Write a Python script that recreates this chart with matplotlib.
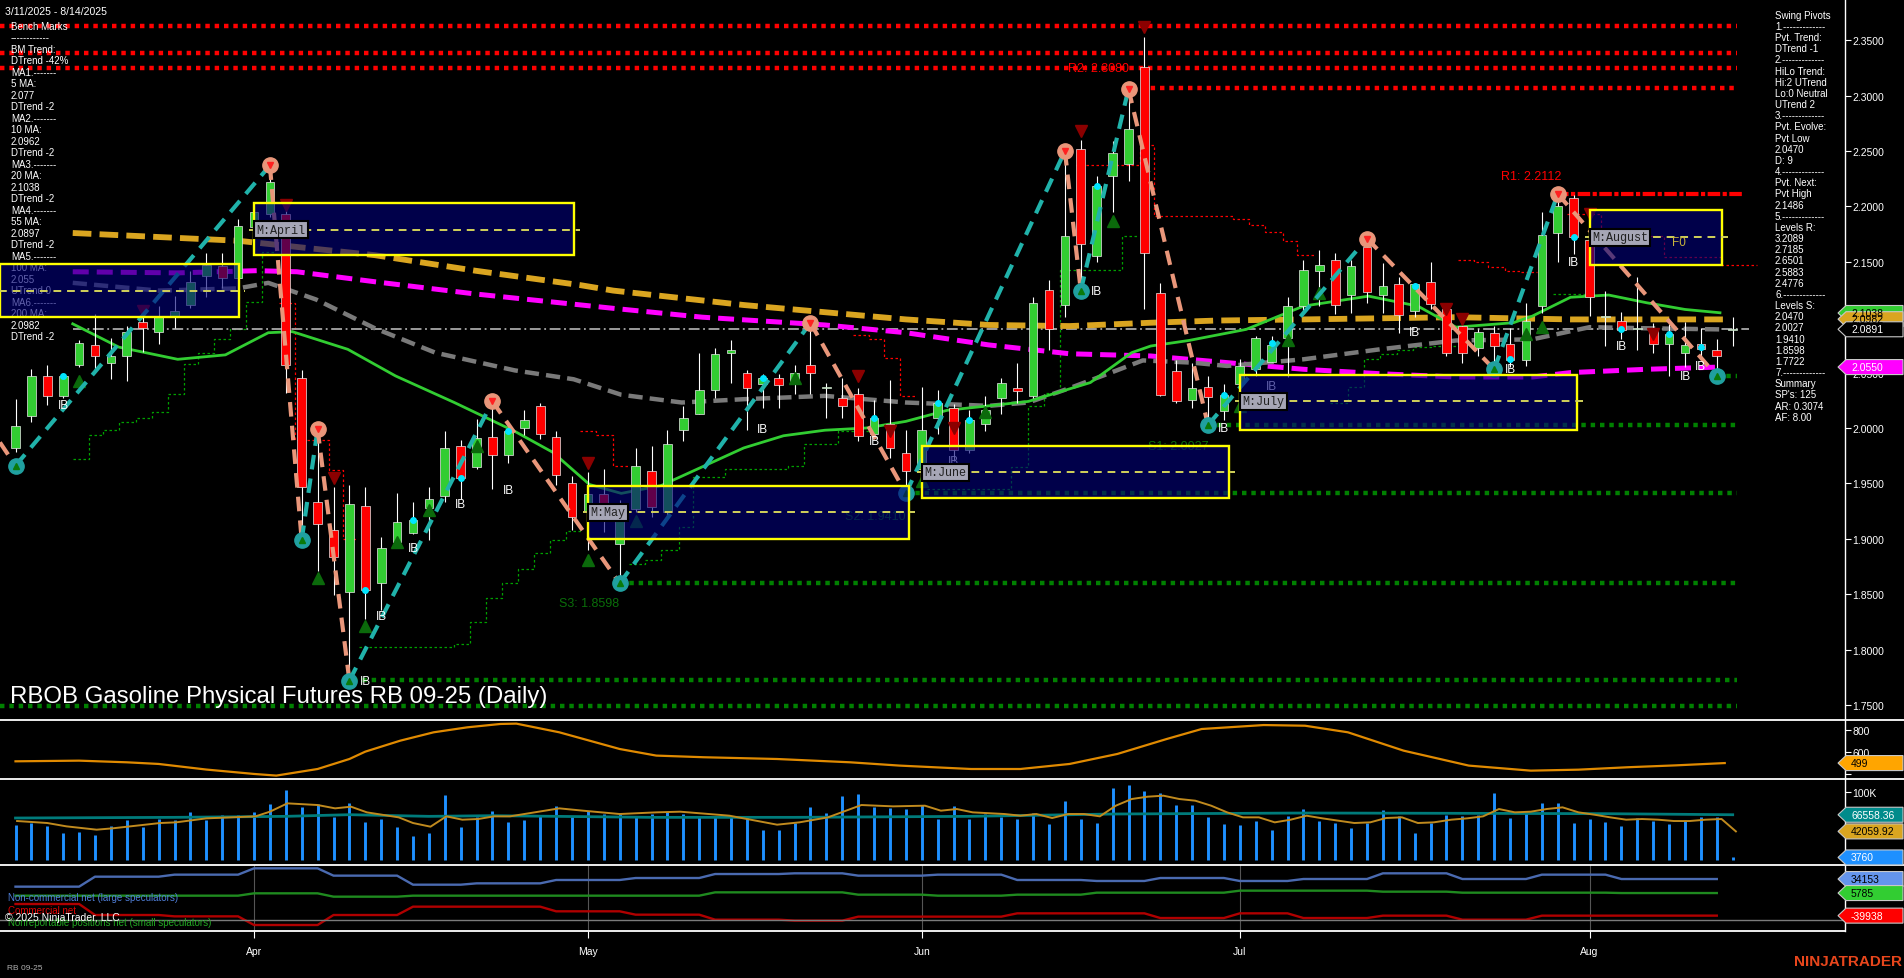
import numpy as np
import matplotlib
matplotlib.use('Agg')
import matplotlib.pyplot as plt
from matplotlib.transforms import Affine2D
from matplotlib.patches import Rectangle, Polygon
from matplotlib.lines import Line2D

W, H = 1904, 979
plt.rcParams['font.family'] = ['Liberation Sans', 'DejaVu Sans']

# ---------------- price data (daily bars 3/11/2025 - 8/14/2025) ----------------
open_ = [1.982, 2.011, 2.047, 2.029, 2.057, 2.075, 2.059, 2.065, 2.096, 2.087,
         2.100, 2.111, 2.137, 2.146, 2.135, 2.181, 2.193, 2.193, 2.045, 1.933,
         1.908, 1.852, 1.930, 1.860, 1.897, 1.905, 1.928, 1.939, 1.984, 1.965,
         1.992, 1.976, 2.000, 2.020, 1.992, 1.950, 1.925, 1.940, 1.895, 1.927,
         1.961, 1.924, 1.998, 2.013, 2.034, 2.068, 2.050, 2.040, 2.045, 2.040,
         2.057, 2.036, 2.027, 2.031, 1.995, 2.004, 1.977, 1.963, 2.009, 2.018,
         1.980, 2.004, 2.027, 2.036, 2.029, 2.125, 2.111, 2.252, 2.155, 2.227,
         2.238, 2.326, 2.122, 2.051, 2.025, 2.037, 2.015, 2.040, 2.053, 2.060,
         2.081, 2.110, 2.142, 2.152, 2.120, 2.163, 2.120, 2.130, 2.106, 2.132,
         2.107, 2.092, 2.072, 2.086, 2.076, 2.061, 2.110, 2.176, 2.208, 2.170,
         2.100, 2.097, 2.089, 2.088, 2.076, 2.068, 2.076, 2.070, 2.088]
high = [2.026, 2.053, 2.057, 2.049, 2.079, 2.103, 2.081, 2.092, 2.106, 2.110,
        2.119, 2.142, 2.158, 2.158, 2.189, 2.200, 2.237, 2.200, 2.052, 1.990,
        1.947, 1.949, 1.947, 1.902, 1.941, 1.933, 1.947, 1.997, 1.989, 2.008,
        2.024, 2.000, 2.016, 2.023, 1.997, 1.957, 1.960, 1.963, 1.935, 1.982,
        1.984, 1.998, 2.020, 2.068, 2.072, 2.079, 2.052, 2.049, 2.049, 2.057,
        2.090, 2.041, 2.045, 2.036, 2.025, 2.043, 1.998, 2.037, 2.034, 2.022,
        2.016, 2.029, 2.045, 2.059, 2.118, 2.134, 2.250, 2.260, 2.227, 2.259,
        2.306, 2.353, 2.131, 2.061, 2.059, 2.047, 2.040, 2.062, 2.083, 2.083,
        2.118, 2.152, 2.161, 2.158, 2.152, 2.171, 2.149, 2.136, 2.131, 2.150,
        2.110, 2.098, 2.089, 2.092, 2.090, 2.113, 2.195, 2.211, 2.210, 2.176,
        2.124, 2.105, 2.136, 2.095, 2.094, 2.096, 2.090, 2.080, 2.100]
low = [1.978, 2.005, 2.021, 2.027, 2.055, 2.052, 2.044, 2.042, 2.069, 2.076,
       2.090, 2.108, 2.118, 2.126, 2.126, 2.178, 2.190, 2.032, 1.905, 1.871,
       1.849, 1.772, 1.828, 1.836, 1.895, 1.904, 1.899, 1.933, 1.936, 1.963,
       1.945, 1.968, 1.994, 1.990, 1.949, 1.908, 1.890, 1.906, 1.860, 1.924,
       1.920, 1.920, 1.988, 2.013, 2.027, 2.041, 1.998, 2.018, 2.018, 2.031,
       2.031, 2.009, 2.009, 1.988, 1.991, 1.973, 1.941, 1.959, 1.995, 1.970,
       1.977, 1.997, 2.013, 2.023, 2.027, 2.070, 2.100, 2.124, 2.150, 2.195,
       2.223, 2.107, 2.029, 2.023, 2.018, 2.003, 2.007, 2.037, 2.047, 2.060,
       2.046, 2.104, 2.110, 2.103, 2.104, 2.113, 2.104, 2.086, 2.100, 2.107,
       2.065, 2.059, 2.065, 2.053, 2.055, 2.056, 2.104, 2.150, 2.157, 2.101,
       2.074, 2.080, 2.070, 2.068, 2.047, 2.055, 2.062, 2.047, 2.074]
close = [2.002, 2.047, 2.029, 2.047, 2.077, 2.065, 2.065, 2.087, 2.090, 2.100,
         2.106, 2.132, 2.147, 2.135, 2.182, 2.195, 2.222, 2.057, 1.947, 1.913,
         1.884, 1.931, 1.854, 1.892, 1.915, 1.917, 1.936, 1.982, 1.955, 1.991,
         1.976, 1.997, 2.007, 1.995, 1.958, 1.920, 1.940, 1.929, 1.931, 1.966,
         1.929, 1.986, 2.009, 2.034, 2.067, 2.070, 2.036, 2.045, 2.039, 2.050,
         2.050, 2.037, 2.020, 1.993, 2.009, 1.982, 1.961, 1.998, 2.023, 1.980,
         2.007, 2.016, 2.041, 2.033, 2.113, 2.089, 2.173, 2.166, 2.218, 2.248,
         2.270, 2.158, 2.030, 2.024, 2.036, 2.028, 2.030, 2.056, 2.081, 2.075,
         2.110, 2.143, 2.147, 2.111, 2.146, 2.123, 2.128, 2.102, 2.130, 2.112,
         2.068, 2.068, 2.087, 2.074, 2.061, 2.097, 2.174, 2.200, 2.172, 2.118,
         2.101, 2.088, 2.090, 2.076, 2.085, 2.075, 2.071, 2.065, 2.0891]

month_bars = [15, 36, 57, 77, 99]
month_names = ['Apr', 'May', 'Jun', 'Jul', 'Aug']

# moving averages read at sample bars
ma200_x = [3.6, 14, 22.6, 28.9, 35.5, 37.6, 45.8, 56, 61.2, 66.3, 71.4, 75.6, 81, 90.6, 97.8, 107.4]
ma200_y = [2.176, 2.169, 2.156, 2.142, 2.129, 2.124, 2.111, 2.098, 2.093, 2.092, 2.095, 2.097, 2.098, 2.100, 2.098, 2.098]
ma100_x = [3.6, 10.2, 15.2, 17.7, 22.6, 28.9, 37.6, 43.2, 50.9, 56, 61.2, 66.3, 71.4, 76.2, 81, 85.8, 90.6, 95.4, 97.8, 102.6, 107.2]
ma100_y = [2.141, 2.140, 2.142, 2.141, 2.132, 2.121, 2.108, 2.100, 2.093, 2.086, 2.075, 2.067, 2.065, 2.059, 2.053, 2.049, 2.046, 2.046, 2.050, 2.053, 2.055]
ma55_x = [3.6, 9, 14, 15.9, 18.9, 22.6, 26.4, 31.4, 35.1, 38.1, 41.9, 45.8, 50.9, 56, 61.2, 63.7, 66.3, 68.9, 70.9, 74, 76.2, 81, 85.8, 90.6, 95.4, 99, 102.6, 107.2]
ma55_y = [2.131, 2.124, 2.126, 2.131, 2.116, 2.090, 2.068, 2.052, 2.044, 2.030, 2.023, 2.026, 2.029, 2.023, 2.020, 2.023, 2.036, 2.050, 2.061, 2.059, 2.056, 2.062, 2.071, 2.079, 2.080, 2.091, 2.090, 2.089]
ma20_x = [3.6, 6.5, 10.2, 13.2, 15.9, 17.4, 20.9, 23.9, 27.6, 31.4, 33.8, 36.1, 38.1, 40.6, 43.2, 45.8, 48.3, 50.9, 53.5, 56, 58.6, 61.2, 63.7, 67.6, 70.2, 71.4, 73.8, 77.4, 81, 85.1, 88.2, 90.6, 94.2, 95.4, 97.8, 100.2, 102.6, 105, 107.2]
ma20_y = [2.094, 2.073, 2.062, 2.066, 2.086, 2.087, 2.071, 2.047, 2.023, 1.997, 1.978, 1.949, 1.941, 1.948, 1.965, 1.982, 1.993, 1.998, 2.000, 2.006, 2.016, 2.020, 2.024, 2.041, 2.068, 2.074, 2.079, 2.089, 2.110, 2.119, 2.110, 2.091, 2.095, 2.101, 2.118, 2.120, 2.113, 2.107, 2.104]

# swing pivots (bar, price)
swing_x = [-0.98, 0, 16, 18, 19, 21, 30, 38, 50, 56, 66, 67, 70, 75, 85, 93, 97, 107]
swing_y = [1.987, 1.966, 2.237, 1.899, 1.999, 1.772, 2.024, 1.8598, 2.095, 1.941, 2.250, 2.124, 2.306, 2.0027, 2.171, 2.053, 2.2112, 2.047]

# monthly range boxes: first bar, last bar, top, mid, bottom
box_name = ['', 'M:April', 'M:May', 'M:June', 'M:July', 'M:August']
box_x0 = [-0.98, 15, 36, 57, 77, 99]
box_x1 = [14.05, 35.1, 56.2, 76.3, 98.2, 107.3]
box_top = [2.148, 2.203, 1.948, 1.984, 2.048, 2.197]
box_mid = [2.124, 2.179, 1.924, 1.960, 2.024, 2.172]
box_bot = [2.100, 2.156, 1.900, 1.937, 1.998, 2.147]

# trailing stop steps
gstop = [([3.6, 4.6, 5.5, 6.5, 7.6, 8.6, 9.6, 10.6, 11.5, 12.5, 13.5, 14.5, 15.5, 16.4],
          [1.972, 1.994, 1.998, 2.005, 2.009, 2.014, 2.031, 2.058, 2.068, 2.080, 2.089, 2.114, 2.159, 2.159]),
         ([21.6, 27.6, 28.6, 29.6, 30.6, 31.6, 32.6, 33.6, 34.6, 35.6],
          [1.802, 1.805, 1.825, 1.847, 1.860, 1.873, 1.887, 1.899, 1.907, 1.908]),
         ([38.6, 39.6, 40.6, 41.7, 42.6, 44.6, 48.6, 49.6, 51.7, 54.0],
          [1.877, 1.881, 1.890, 1.911, 1.956, 1.963, 1.966, 1.986, 1.997, 1.997]),
         ([57.3, 62.6, 63.7, 64.7, 65.7, 69.6, 70.6],
          [1.945, 1.965, 2.020, 2.032, 2.143, 2.173, 2.173]),
         ([82.7, 83.8, 84.8, 85.8, 86.9, 87.9, 89.0, 90.8],
          [2.023, 2.037, 2.062, 2.067, 2.070, 2.073, 2.074, 2.074]),
         ([96.7, 98.9], [2.121, 2.121])]
rstop = [([16.6, 17.6, 19.7, 20.6, 21.5], [2.113, 1.989, 1.962, 1.900, 1.900]),
         ([35.5, 36.5, 37.6, 38.6], [1.997, 1.994, 1.966, 1.966]),
         ([52.7, 53.7, 54.6, 55.6, 56.6], [2.084, 2.080, 2.063, 2.029, 2.029]),
         ([66.7, 70.7, 71.6, 76.6, 77.6, 78.6, 79.7, 80.6, 81.7],
          [2.237, 2.255, 2.191, 2.189, 2.183, 2.177, 2.169, 2.156, 2.156]),
         ([90.7, 91.7, 92.6, 93.7, 94.7, 95.7], [2.152, 2.150, 2.145, 2.142, 2.141, 2.141]),
         ([97.6, 99.7, 103.7, 107.3, 109.5], [2.193, 2.173, 2.154, 2.147, 2.147])]

# horizontal levels (price, first bar)
red_levels = [(2.363, -1), (2.338, -1), (2.325, -1), (2.307, 70.2)]
green_levels = [(2.047, 107), (2.0027, 75), (1.941, 56), (1.8598, 38), (1.7722, 21.2), (1.749, -1)]
last_price = 2.0891

ib_x = [3, 22, 23, 25, 28, 31, 47, 54, 59, 68, 76, 79, 88, 94, 98, 101, 105, 106]
ib_y = [2.021, 1.772, 1.830, 1.892, 1.931, 1.944, 1.999, 1.988, 1.970, 2.124, 2.000, 2.038, 2.087, 2.053, 2.150, 2.074, 2.047, 2.056]
up_tri_x = [4, 19, 22, 24, 26, 29, 36, 39, 49, 57, 61, 69, 77, 80, 82, 95, 96]
up_tri_y = [2.042, 1.865, 1.821, 1.897, 1.926, 1.984, 1.881, 1.916, 2.045, 1.952, 2.014, 2.187, 2.020, 2.079, 2.122, 2.085, 2.091]
dn_tri_x = [8, 17, 20, 36, 53, 55, 59, 67, 71, 90, 91, 99, 103]
dn_tri_y = [2.106, 2.201, 1.955, 1.968, 2.047, 1.997, 2.000, 2.268, 2.362, 2.107, 2.098, 2.193, 2.085]
dot_x = [3, 22, 25, 28, 31, 47, 54, 58, 60, 68, 76, 79, 88, 94, 98, 101, 104, 106]
dot_y = [2.047, 1.854, 1.917, 1.955, 1.997, 2.045, 2.009, 2.023, 2.007, 2.218, 2.030, 2.077, 2.128, 2.062, 2.172, 2.089, 2.085, 2.073]

# oscillator panel
osc_x = [0, 4, 7, 9, 12, 15, 16.4, 19, 21, 22, 24.2, 26.3, 28.4, 30.5, 31.5, 34.2, 38, 40.3, 43.3, 47.9, 52.5, 55.6, 60.1, 63.2, 66.3, 69.3, 72.4, 74.6, 78.5, 81.1, 83.8, 87.3, 91.4, 95.3, 98.3, 101.4, 104.4, 107.5]
osc_y = [515, 521, 506, 491, 440, 400, 385, 445, 536, 603, 703, 779, 824, 855, 858, 779, 627, 567, 552, 536, 506, 476, 445, 445, 491, 582, 718, 809, 845, 839, 779, 612, 476, 430, 439, 461, 478, 499]

# volume panel
volume = [51450, 54390, 49980, 39690, 40670, 36750, 49490, 58310, 48510, 60270,
          58310, 70070, 59290, 66150, 66150, 70070, 82320, 102900, 78400, 82320,
          63210, 83790, 55370, 60270, 48510, 35770, 39690, 95550, 48510, 63210,
          72030, 56350, 59290, 65170, 78890, 65170, 72520, 67620, 67620, 65170,
          67620, 71050, 67620, 65170, 65170, 64190, 62720, 44590, 44590, 54390,
          77420, 68600, 93590, 97020, 77420, 75950, 74970, 80850, 60270, 79380,
          60270, 67620, 63700, 60270, 69090, 52920, 86730, 60270, 54390, 105350,
          110250, 101430, 98490, 80850, 80850, 63700, 52920, 51450, 56840, 44100,
          65170, 74970, 57330, 54390, 47040, 53900, 73500, 64680, 39690, 53900,
          66150, 65170, 66150, 98490, 61740, 70070, 83790, 83790, 54390, 60270,
          55860, 49980, 61740, 57820, 52920, 57820, 63210, 63700, 3760]
vavg_x = [0, 10, 17, 21, 26, 30, 40, 49, 60, 69, 81, 92, 100, 108]
vavg_y = [61740, 62720, 64190, 66640, 64190, 65170, 62720, 62720, 64190, 67620, 69090, 68600, 68110, 66558]
vma_x = [0.1, 2, 3.2, 5.1, 6.1, 9.1, 10.1, 12, 15.1, 16, 17.1, 19, 20.1, 21.1, 22.1, 24.1, 25, 26.1, 27.1, 28.1, 29.1, 30.1,
         31.1, 34.2, 35.7, 38, 40.3, 41.8, 44.9, 47.9, 49.3, 51.1, 53.2, 55.2, 57.2, 58.2, 59.2, 60.2, 62.2, 63.2, 64.2,
         65.2, 66.2, 67.2, 68.2, 69.2, 70.2, 71.2, 72.2, 73.2, 74.2, 75.2, 76.2, 77.2, 78.2, 79.2, 80.2, 81.2, 82.2, 83.2,
         84.2, 85.2, 86.2, 87.2, 88.2, 89.2, 90.3, 91.3, 92.3, 93.3, 94.3, 95.3, 96.3, 97.3, 98.3, 99.3, 100.3, 101.3,
         102.3, 103.3, 104.3, 105.3, 106.3, 107.3, 108.2]
vma_y = [57330, 54390, 49490, 44590, 46550, 54390, 55370, 61250, 64190, 71050, 83300, 80850, 75950, 78400, 70070, 62720,
         54390, 49000, 64190, 59290, 60270, 64190, 64190, 75950, 72520, 67620, 70070, 71050, 65170, 51940, 55370, 62720,
         80850, 78890, 79870, 72520, 74970, 70070, 67620, 65170, 67620, 61740, 67620, 67620, 64190, 79870, 89670, 93100,
         94570, 89670, 87220, 79870, 70070, 62720, 62720, 55370, 59290, 65170, 61250, 57820, 54390, 55370, 61740, 62720,
         54390, 55370, 59290, 61250, 64190, 74970, 70070, 71050, 74970, 77420, 70070, 66640, 62720, 59290, 60270, 59290,
         57330, 57330, 59290, 60270, 42060]

# COT weekly net positions (week start bars)
cot_start = [0, 5, 10, 15, 20, 25, 29, 34, 39, 44, 49, 53, 58, 63, 68, 72, 77, 81, 86, 91, 96, 101]
noncomm = [18700, 38900, 43000, 55800, 41000, 22700, 25400, 32200, 36200, 44300, 45700,
           41000, 43000, 32200, 30200, 36200, 30200, 34200, 45700, 34200, 43000, 34153]
nonrep = [470, 470, 470, 5200, -1560, 470, 470, 470, 470, 7200, 7200,
          2500, 470, 2500, 6540, 6540, 10600, 10600, 8560, 6540, 6540, 5785]
comm = [-16400, -38700, -41400, -58900, -38700, -21800, -21800, -31200, -38000, -48100, -50100,
        -42000, -42000, -35300, -35300, -44800, -35300, -44800, -40000, -48100, -40000, -39938]

left_text = ['Bench Marks', '------------', 'BM Trend:', 'DTrend -42%', 'MA1.-------', '5 MA:', '2.077',
             'DTrend -2', 'MA2.-------', '10 MA:', '2.0962', 'DTrend -2', 'MA3.-------', '20 MA:', '2.1038',
             'DTrend -2', 'MA4.-------', '55 MA:', '2.0897', 'DTrend -2', 'MA5.-------', '100 MA:', '2.055',
             'UTrend 0', 'MA6.-------', '200 MA:', '2.0982', 'DTrend -2']
right_text = ['Swing Pivots', '1.-------------', 'Pvt. Trend:', 'DTrend -1', '2.-------------', 'HiLo Trend:',
              'Hi:2 UTrend', 'Lo:0 Neutral', 'UTrend 2', '3.-------------', 'Pvt. Evolve:', 'Pvt Low', '2.0470',
              'D: 9', '4.-------------', 'Pvt. Next:', 'Pvt High', '2.1486', '5.-------------', 'Levels R:',
              '3.2089', '2.7185', '2.6501', '2.5883', '2.4776', '6.-------------', 'Levels S:', '2.0470',
              '2.0027', '1.9410', '1.8598', '1.7722', '7.-------------', 'Summary', "SP's: 125", 'AR: 0.3074',
              'AF: 8.00']

# ---------------- figure ----------------
fig = plt.figure(figsize=(W / 100, H / 100), dpi=100, facecolor='black')
PX = Affine2D().scale(1, -1).translate(0, H)
AX_R = 1845
XL = (-15.5 / 15.9, (AX_R - 15.5) / 15.9)


def panel(top, bottom):
    a = fig.add_axes([0, 1 - bottom / H, AX_R / W, (bottom - top) / H], facecolor='black')
    a.set_xlim(*XL)
    for s in a.spines.values():
        s.set_visible(False)
    a.set_xticks([])
    a.yaxis.tick_right()
    a.tick_params(axis='y', colors='white', labelcolor='white', length=4, width=0.8, pad=1.5, labelsize=7.5)
    return a


ax = panel(0, 721)
ax2 = panel(721, 780)
ax3 = panel(780, 866)
ax4 = panel(866, 932)

idx = np.arange(len(close))
o, h, l, c = map(np.array, (open_, high, low, close))

# price panel
ax.set_ylim(2.0 - 292 / 1108, 2.0 + 429 / 1108)
ticks = np.arange(1.75, 2.351, 0.05)
ax.set_yticks(ticks)
ax.set_yticklabels([f'{t:.4f}' for t in ticks])

for lv, x0 in red_levels:
    ax.plot([x0, 108.3], [lv, lv], color='#ff0000', lw=3.2, dashes=(1, 1.1), zorder=1)
for lv, x0 in green_levels:
    ax.plot([x0, 108.3], [lv, lv], color='#008000', lw=3.2, dashes=(1, 1.1), zorder=1)
ax.plot([96.9, 108.7], [2.2112, 2.2112], color='#ff0000', lw=3.0, dashes=(3, 0.6, 1, 0.6), zorder=1)

for xs, ys in gstop:
    ax.step(xs, ys, where='post', color='#00a000', lw=0.9, ls=(0, (2, 2)), zorder=1.5)
for xs, ys in rstop:
    ax.step(xs, ys, where='post', color='#ff0000', lw=0.9, ls=(0, (2, 2)), zorder=1.5)

ax.plot([3.6, 109], [last_price, last_price], color='#a8a8a8', lw=1.3, ls=(0, (6, 2, 1, 2)), zorder=1.6)
ax.plot(ma200_x, ma200_y, color='#daa520', lw=4.2, dashes=(3.2, 1.4), zorder=2)
ax.plot(ma100_x, ma100_y, color='#ff00ff', lw=3.6, dashes=(3.2, 1.6), zorder=2)
ax.plot(ma55_x, ma55_y, color='#7a7a7a', lw=3.2, dashes=(3.2, 1.6), zorder=2)
ax.plot(ma20_x, ma20_y, color='#32cd32', lw=2.0, zorder=2.1)

# candles
colors = np.where(c >= o, '#32cd32', '#ff0000')
ax.vlines(idx, l, h, color='white', lw=0.8, zorder=3)
ax.bar(idx, np.maximum(np.abs(c - o), 0.0009), 0.55, bottom=np.minimum(o, c),
       color=colors, edgecolor='#e8e8e8', linewidth=0.5, zorder=3.5)

# swing zigzag
for k in range(len(swing_x) - 1):
    rising = swing_y[k + 1] > swing_y[k]
    ax.plot(swing_x[k:k + 2], swing_y[k:k + 2], color='#20b2aa' if rising else '#e9967a',
            lw=3.0, dashes=(3.5, 2.2), zorder=4.2)
for k in range(1, len(swing_x)):
    is_high = swing_y[k] > swing_y[k - 1]
    ax.plot(swing_x[k], swing_y[k], 'o', ms=11, color='#e9967a' if is_high else '#20a0a0', zorder=4.3)
    ax.plot(swing_x[k], swing_y[k], 'v' if is_high else '^', ms=4,
            color='#ff2020' if is_high else '#0a7a0a', zorder=4.4)

ax.plot(up_tri_x, up_tri_y, '^', ms=9, color='#0b6a0b', ls='none', zorder=4)
ax.plot(dn_tri_x, dn_tri_y, 'v', ms=9, color='#8b0000', ls='none', zorder=4)
ax.plot(dot_x, dot_y, 'o', ms=4, color='#00e5ff', ls='none', zorder=4.5)
for x, y in zip(ib_x, ib_y):
    ax.text(x, y, 'IB', color='white', fontsize=8.5, ha='center', va='center', zorder=4.6)

# monthly boxes
for k in range(len(box_x0)):
    wdt = box_x1[k] - box_x0[k]
    ax.add_patch(Rectangle((box_x0[k], box_bot[k]), wdt, box_top[k] - box_bot[k],
                           fc='#000078', alpha=0.62, lw=0, zorder=6))
    ax.add_patch(Rectangle((box_x0[k], box_bot[k]), wdt, box_top[k] - box_bot[k],
                           fill=False, ec='#ffff00', lw=1.7, zorder=6.2))
    ax.plot([box_x0[k] - 0.3, box_x1[k] + 0.4], [box_mid[k]] * 2, color='#d2d25a', lw=1.4,
            dashes=(4, 3), zorder=6.3)
    if box_name[k]:
        ax.text(box_x0[k] + 0.15, box_mid[k], box_name[k], family='Liberation Mono', fontsize=8.5,
                color='#202020', va='center', ha='left', zorder=7,
                bbox=dict(boxstyle='square,pad=0.2', fc='#a6a6b6', ec='black', lw=1.5))
ax.text(104.2, 2.168, 'F0', color='#c8b43c', fontsize=8.5, va='center', zorder=7)

ax.text(66.2, 2.325, 'R2: 2.3080', color='#ff0000', fontsize=9, va='center', zorder=5)
ax.text(93.4, 2.227, 'R1: 2.2112', color='#ff0000', fontsize=9, va='center', zorder=5)
ax.text(71.2, 1.984, 'S1: 2.0027', color='#0a6e0a', fontsize=9, va='center', zorder=5)
ax.text(52.2, 1.921, 'S2: 1.9410', color='#0a6e0a', fontsize=9, va='center', zorder=5)
ax.text(34.2, 1.842, 'S3: 1.8598', color='#0a6e0a', fontsize=9, va='center', zorder=5)

# info text blocks
ax.text(5, 11.7, '3/11/2025 - 8/14/2025', transform=PX, color='white', fontsize=7.6, va='center', zorder=5.5)
for k, s in enumerate(left_text):
    ax.text(11, 26.7 + 11.5 * k, s, transform=PX, color='white', fontsize=7, va='center', zorder=5.5)
for k, s in enumerate(right_text):
    ax.text(1775, 15.7 + 11.17 * k, s, transform=PX, color='white', fontsize=7, va='center', zorder=5.5)
ax.text(10, 697, 'RBOB Gasoline Physical Futures RB 09-25 (Daily)', transform=PX, color='white',
        fontsize=17.3, va='center', zorder=8)

# oscillator panel
ax2.set_ylim(354, 891)
ax2.set_yticks([800, 600, 400])
ax2.set_yticklabels(['800', '600', ''])
ax2.plot(osc_x, osc_y, color='#e08a00', lw=1.6)

# volume panel
ax3.set_ylim(-7353, 119118)
ax3.set_yticks([100000])
ax3.set_yticklabels(['100K'])
ax3.vlines(idx, 0, volume, color='#1e90ff', lw=2.1)
ax3.plot(vavg_x, vavg_y, color='#007b7b', lw=2.0)
ax3.plot(vma_x, vma_y, color='#c08a1e', lw=1.4)

# COT panel
ax4.set_ylim(-71050, 62550)
ax4.set_yticks([])
week_len = np.diff(cot_start + [108])
for vals, col in ((noncomm, '#4a6ab0'), (nonrep, '#1f8a1f'), (comm, '#b00000')):
    per_bar = np.repeat(vals, week_len)
    ax4.plot(np.arange(len(per_bar)), per_bar, color=col, lw=1.7)
ax4.axhline(-48800, color='#7a7a7a', lw=1.0)
for mb in month_bars:
    ax4.axvline(mb, color='#555555', lw=0.8, zorder=0)
ax4.set_xticks(month_bars)
ax4.set_xticklabels(month_names)
ax4.tick_params(axis='x', colors='white', labelcolor='white', length=5, width=0.8, pad=6, labelsize=7.5)

ax4.text(8, 898, 'Non-commercial net (large speculators)', transform=PX, color='#4f7fd8', fontsize=7, va='center')
ax4.text(8, 911, 'Commercial net', transform=PX, color='#e00000', fontsize=7, va='center')
ax4.text(8, 923, 'Nonreportable positions net (small speculators)', transform=PX, color='#22a822', fontsize=7,
         va='center')
ax4.text(5, 918, '\u00a9 2025 NinjaTrader, LLC', transform=PX, color='white', fontsize=7.5, va='center')

# separators and axis line
for y, x1 in ((721, W), (780, W), (866, W), (932, AX_R)):
    fig.add_artist(Line2D([0, x1], [y, y], transform=PX, color='white', lw=1.3))
fig.add_artist(Line2D([AX_R, AX_R], [0, 932], transform=PX, color='white', lw=1.0))


def tag(a, v, s, fc, tc):
    y = H - a.transData.transform((0, v))[1]
    pts = [(1838, y), (1846, y - 7.5), (1903, y - 7.5), (1903, y + 7.5), (1846, y + 7.5)]
    fig.add_artist(Polygon(pts, closed=True, transform=PX, fc=fc, ec='#c8c8c8', lw=0.8, zorder=20))
    fig.text(1851, y, s, transform=PX, color=tc, fontsize=7.5, va='center', ha='left', zorder=21)


tag(ax, 2.1038, '2.1038', '#32cd32', 'black')
tag(ax, 2.0982, '2.0982', '#daa520', 'black')
tag(ax, 2.0891, '2.0891', 'black', 'white')
tag(ax, 2.0550, '2.0550', '#ff00ff', 'white')
tag(ax2, 499, '499', '#ffa500', 'black')
tag(ax3, 66558.36, '66558.36', '#008b8b', 'white')
tag(ax3, 42059.92, '42059.92', '#daa520', 'black')
tag(ax3, 3760, '3760', '#1e90ff', 'white')
tag(ax4, 34153, '34153', '#6495ed', 'black')
tag(ax4, 5785, '5785', '#32cd32', 'black')
tag(ax4, -39938, '-39938', '#ff0000', 'white')

fig.text(7, 969, 'RB 09-25', transform=PX, color='#b0b0b0', fontsize=6, va='center')
fig.text(1902, 962, 'NINJATRADER', transform=PX, color='#e8461c', fontsize=11, fontweight='bold',
         va='center', ha='right')

fig.savefig('out.png', dpi=100, facecolor='black')
